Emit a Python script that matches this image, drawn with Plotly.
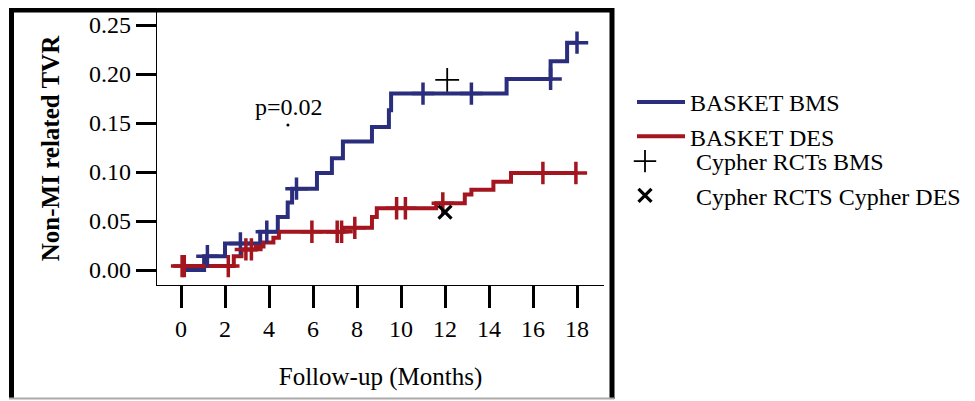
import plotly.graph_objects as go

# ---- data (months, cumulative incidence) ----
bms_x = [0, 1.05, 2.0, 3.6, 4.4, 4.85, 5.05, 6.18, 6.86, 7.36, 8.68, 9.45, 9.55, 14.8, 16.8, 17.55, 18.0]
bms_y = [0, 0.014, 0.027, 0.039, 0.054, 0.069, 0.083, 0.099, 0.114, 0.131, 0.146, 0.163, 0.180, 0.195, 0.213, 0.232, 0.232]
bms_cens_x = [1.2, 2.7, 3.9, 5.25, 11.0, 13.2, 16.8, 18.0]
bms_cens_y = [0.014, 0.027, 0.039, 0.083, 0.180, 0.180, 0.195, 0.232]

des_x = [0, 2.4, 2.75, 3.4, 3.75, 4.2, 4.45, 7.36, 8.68, 8.9, 11.6, 12.9, 13.2, 14.2, 15.0, 18.0]
des_y = [0.004, 0.014, 0.021, 0.024, 0.028, 0.033, 0.039, 0.043, 0.054, 0.063, 0.068, 0.077, 0.082, 0.090, 0.099, 0.099]
des_cens_x = [0.05, 0.15, 2.15, 2.95, 3.2, 5.95, 7.1, 7.3, 7.9, 9.8, 10.2, 11.9, 16.45, 17.95]
des_cens_y = [0.004, 0.004, 0.004, 0.021, 0.021, 0.039, 0.039, 0.039, 0.043, 0.063, 0.063, 0.068, 0.099, 0.099]

cypher_bms_x = [12.1]
cypher_bms_y = [0.194]
cypher_des_x = [12.0]
cypher_des_y = [0.059]

x_ticks = [0, 2, 4, 6, 8, 10, 12, 14, 16, 18]
y_ticks = [0.00, 0.05, 0.10, 0.15, 0.20, 0.25]

BLUE = "#2a2e7c"
RED = "#a3161f"
FONT = "Liberation Serif"

# page body has an 8px margin: work in figure pixels (screen - 8)
OFF = 8
W, H = 975 - OFF, 401 - OFF
L, R, T, B = 157 - OFF, 604 - OFF, 12 - OFF, 285 - OFF
X0, Y0 = 181 - OFF, 270 - OFF      # pixel of x=0 / y=0
PX_PER_MONTH, PX_PER_UNIT = 22, 980


def px(xs):
    return (xs - OFF - L) / (R - L)


def py(ys):
    return (B - (ys - OFF)) / (B - T)


fig = go.Figure()

fig.add_trace(go.Scatter(x=bms_x, y=bms_y, mode="lines", line=dict(color=BLUE, width=4, shape="hv"),
                         name="BASKET BMS", legend="legend"))
fig.add_trace(go.Scatter(x=des_x, y=des_y, mode="lines", line=dict(color=RED, width=4, shape="hv"),
                         name="BASKET DES", legend="legend"))
fig.add_trace(go.Scatter(x=bms_cens_x, y=bms_cens_y, mode="markers", showlegend=False,
                         marker=dict(symbol="cross-thin", size=16, line=dict(color=BLUE, width=3.5))))
fig.add_trace(go.Scatter(x=des_cens_x, y=des_cens_y, mode="markers", showlegend=False,
                         marker=dict(symbol="cross-thin", size=16, line=dict(color=RED, width=3.5))))
fig.add_trace(go.Scatter(x=cypher_bms_x, y=cypher_bms_y, mode="markers", name="Cypher RCTs BMS",
                         legend="legend2",
                         marker=dict(symbol="cross-thin", size=17, color="black",
                                     line=dict(color="black", width=1.8))))
fig.add_trace(go.Scatter(x=cypher_des_x, y=cypher_des_y, mode="markers", name="Cypher RCTS Cypher DES",
                         legend="legend2",
                         marker=dict(symbol="x-thin", size=13, color="black",
                                     line=dict(color="black", width=3.2))))
# stray dot under the p-value
fig.add_trace(go.Scatter(x=[4.86], y=[0.148], mode="markers", showlegend=False, hoverinfo="skip",
                         marker=dict(symbol="circle", size=3, color="black")))

fig.add_annotation(x=4.9, y=0.166, text="p=0.02", showarrow=False,
                   font=dict(family=FONT, size=24, color="black"))

# outer frame
frame = [
    dict(x0=px(11.5), x1=px(11.5), y0=py(8), y1=py(399), color="black", width=5),
    dict(x0=px(9), x1=px(614), y0=py(10), y1=py(10), color="black", width=5),
    dict(x0=px(612), x1=px(612), y0=py(8), y1=py(399), color="black", width=5),
    dict(x0=px(9), x1=px(614), y0=py(398.5), y1=py(398.5), color="#aaaaaa", width=2),
]
for s in frame:
    fig.add_shape(type="line", xref="paper", yref="paper", x0=s["x0"], x1=s["x1"], y0=s["y0"], y1=s["y1"],
                  line=dict(color=s["color"], width=s["width"]))

fig.update_layout(
    width=W, height=H,
    margin=dict(l=L, r=W - R, t=T, b=H - B, autoexpand=False),
    paper_bgcolor="white", plot_bgcolor="white",
    font=dict(family=FONT, size=22, color="black"),
    legend=dict(x=px(632), y=py(80), xanchor="left", yanchor="top",
                font=dict(family=FONT, size=24, color="black"),
                bgcolor="rgba(0,0,0,0)", itemwidth=48, tracegroupgap=0),
    legend2=dict(x=px(594), y=py(139), xanchor="left", yanchor="top",
                 font=dict(family=FONT, size=24, color="black"),
                 bgcolor="rgba(0,0,0,0)", itemwidth=92, tracegroupgap=0),
    xaxis=dict(range=[(L - X0) / PX_PER_MONTH, (R - X0) / PX_PER_MONTH], tickvals=x_ticks,
               ticktext=[str(v) for v in x_ticks],
               showline=True, linecolor="black", linewidth=1.3, mirror=False,
               ticks="outside", ticklen=22, tickwidth=2.5, tickcolor="black",
               showgrid=False, zeroline=False,
               tickfont=dict(family=FONT, size=24),
               title=dict(text="Follow-up (Months)", font=dict(family=FONT, size=25), standoff=26)),
    yaxis=dict(range=[(Y0 - B) / PX_PER_UNIT, (Y0 - T) / PX_PER_UNIT], tickvals=y_ticks,
               tickformat=".2f",
               showline=True, linecolor="black", linewidth=1.3, mirror=False,
               ticks="outside", ticklen=20, tickwidth=3, tickcolor="black",
               showgrid=False, zeroline=False,
               tickfont=dict(family=FONT, size=24),
               title=dict(text="<b>Non-MI related TVR</b>", font=dict(family=FONT, size=25), standoff=22)),
)

fig.write_html("out.html")
